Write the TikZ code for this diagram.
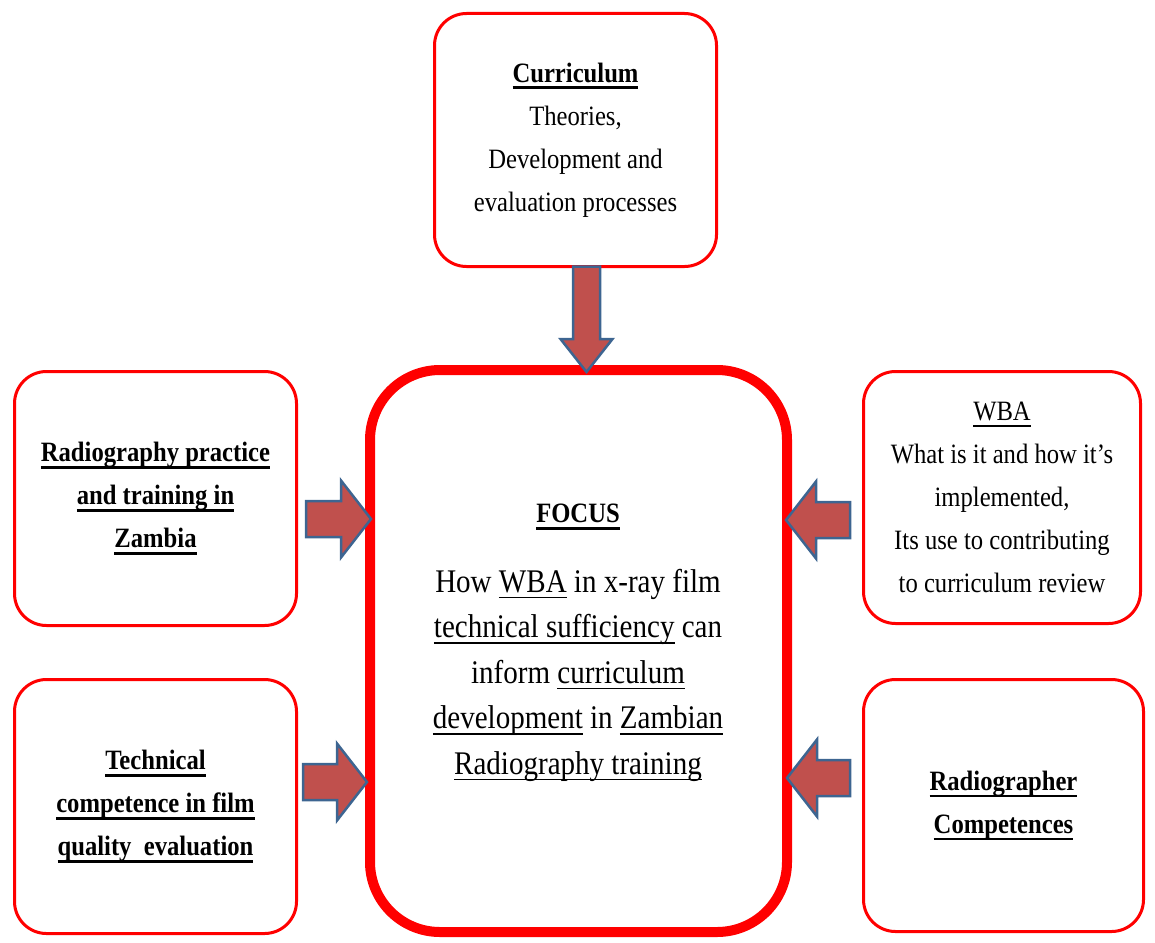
\documentclass[tikz,border=0pt]{standalone}
\usepackage{fontspec}
\setmainfont{Liberation Serif}[FakeStretch=0.88]
\usetikzlibrary{calc}

\definecolor{boxred}{HTML}{FF0000}
\definecolor{arrowfill}{HTML}{C0504D}
\definecolor{arrowline}{HTML}{3D6591}

% underlined text: bold heading style and plain style
\newsavebox\ulsave
\newcommand\ulbold[1]{\sbox\ulsave{\bfseries #1}\rlap{\rule[-6.8pt]{\wd\ulsave}{2.6pt}}\usebox\ulsave}
\newcommand\ulplain[1]{\sbox\ulsave{#1}\rlap{\rule[-6pt]{\wd\ulsave}{1.4pt}}\usebox\ulsave}

% block arrow from a start point to a tip:
% #1 name, #2 start, #3 tip, #4 shaft half width, #5 head half width, #6 head length
\newcommand\blockarrow[6]{%
  \coordinate (#1s) at (#2);
  \coordinate (#1t) at (#3);
  \coordinate (#1n) at ($(#1t)!#6!(#1s)$);
  \draw[blockarrow] ($(#1s)!#4!90:(#1t)$) -- ($(#1n)!#4!90:(#1t)$)
    -- ($(#1n)!#5!90:(#1t)$) -- (#1t) -- ($(#1n)!#5!-90:(#1t)$)
    -- ($(#1n)!#4!-90:(#1t)$) -- ($(#1s)!#4!-90:(#1t)$) -- cycle;}

\begin{document}
\begin{tikzpicture}[x=1pt,y=-1pt,
  card/.style={draw=boxred, line width=3pt, rounded corners=32pt, outer sep=0pt,
    inner sep=0pt, align=center, font=\fontsize{28}{43}\selectfont},
  focusbox/.style={draw=boxred, line width=10pt, rounded corners=70pt, outer sep=0pt,
    minimum width=417pt, minimum height=562pt},
  blockarrow/.style={fill=arrowfill, draw=arrowline, line width=2.5pt, line join=miter}]
\useasboundingbox (0,0) rectangle (1155,942);

% surrounding topic boxes
\node[card, minimum width=282pt, minimum height=253pt] (curr) at (575.5,140)
  {\ulbold{Curriculum}\\Theories,\\Development and\\evaluation processes};
\node[card, minimum width=282pt, minimum height=254pt] (lt) at (155.5,498.5)
  {\ulbold{Radiography practice}\\\ulbold{and training in}\\\ulbold{Zambia}};
\node[card, minimum width=282pt, minimum height=254pt] (lb) at (155.5,806.5)
  {\ulbold{Technical}\\\ulbold{competence in film}\\\ulbold{quality\ \ evaluation}};
\node[card, minimum width=277pt, minimum height=252pt] (rt) at (1002,497.5)
  {\ulplain{WBA}\\What is it and how it’s\\implemented,\\Its use to contributing\\to curriculum review};
\node[card, minimum width=280pt, minimum height=252pt] (rb) at (1003.5,805.5)
  {\ulbold{Radiographer}\\\ulbold{Competences}};

% central focus box
\node[focusbox] (focus) at (578.5,651) {};
\node[font=\fontsize{28}{34}\selectfont] (focustitle) at (578,517) {\ulbold{FOCUS}};
\node[align=center, font=\fontsize{33}{45.5}\selectfont] (focusbody) at (578,675)
  {How \ulplain{WBA} in x-ray film\\
   \ulplain{technical sufficiency} can\\
   inform \ulplain{curriculum}\\
   \ulplain{development} in \ulplain{Zambian}\\
   \ulplain{Radiography training}};

% block arrows into the focus box
\blockarrow{a1}{[xshift=11pt]curr.south}{$(a1s |- focus.north)+(0,2)$}{13.5pt}{26pt}{33pt}
\blockarrow{a2}{[shift={(9.5,20.5)}]lt.east}{$(a2s -| focus.west)+(1,0)$}{18pt}{38.5pt}{30pt}
\blockarrow{a3}{[shift={(6.5,-24.5)}]lb.east}{$(a3s -| focus.west)+(-3,0)$}{18pt}{38.5pt}{30pt}
\blockarrow{a4}{[shift={(-13.5,22.5)}]rt.west}{$(a4s -| focus.east)+(-1,0)$}{18pt}{38.5pt}{30pt}
\blockarrow{a5}{[shift={(-13.5,-27.5)}]rb.west}{$(a5s -| focus.east)+(0,0)$}{18pt}{38.5pt}{30pt}
\end{tikzpicture}
\end{document}
